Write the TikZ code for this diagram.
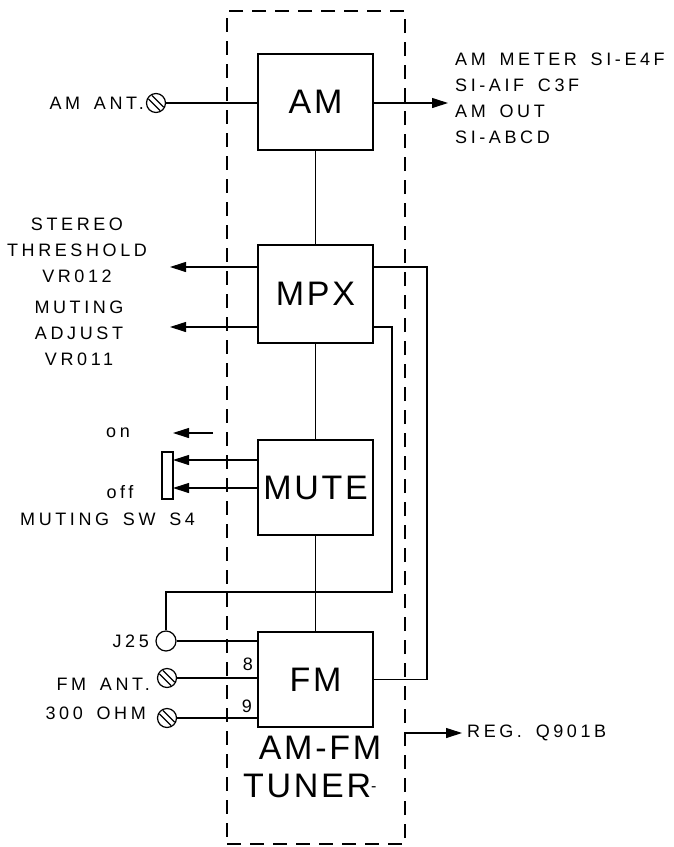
\documentclass[tikz,border=0pt]{standalone}
\usepackage{fontspec}
\setmainfont{Liberation Sans}
\newfontfamily\wirefont[LetterSpace=20,WordSpace=1.6]{Liberation Sans}
\newfontfamily\blockfont[LetterSpace=8]{Liberation Sans}
\usetikzlibrary{arrows.meta}

\begin{document}
\begin{tikzpicture}[x=1pt,y=-1pt,
  every node/.style={font=\wirefont\fontsize{18}{26}\selectfont,inner sep=0pt},
  blk/.style={draw,line width=1.4pt,minimum width=115pt,minimum height=96pt,
    font=\blockfont\fontsize{34}{40}\selectfont},
  wire/.style={line width=1.1pt},
  sig/.style={wire,-{Triangle[length=16pt,width=10pt]}},
  screw/.style={circle,draw,line width=1.2pt,minimum size=19pt,
    path picture={\draw[line width=1.1pt,shift={(path picture bounding box.center)}]
      (-4,-7.5) -- (7.5,4) (-7.5,-4) -- (4,7.5);}},
  jack/.style={circle,draw,line width=1.2pt,minimum size=20pt}
]
\useasboundingbox (0,0) rectangle (674,847);

% tuner frame
\node[draw,line width=1.1pt,dash pattern=on 14pt off 9pt,minimum width=178pt,
  minimum height=833pt] (tuner) at (316,427.5) {};

% blocks
\node[blk,minimum height=96pt] (am) at (315.5,102) {AM};
\node[blk,minimum height=98pt] (mpx) at (315.5,294) {MPX};
\node[blk,minimum height=95pt] (mute) at (315.5,487.5) {MUTE};
\node[blk,minimum height=95pt] (fm) at (315.5,679.5) {FM};
\draw[wire] (am) -- (mpx) (mpx) -- (mute) (mute) -- (fm);

% AM side
\node[screw] (amant) at (156,103) {};
\node[anchor=east] (amantlbl) at (144,103) {AM ANT.};
\draw[wire] (amant) -- (amant -| am.west);
\coordinate (amout) at (448,103);
\draw[sig] (am.east |- amout) -- (amout);
\node[anchor=west,align=left] (amtxt) at (455,98)
  {AM METER SI-E4F\\SI-AIF C3F\\AM OUT\\SI-ABCD};

% MPX outputs
\coordinate (vr12) at (170,267);
\coordinate (vr11) at (170,327);
\draw[sig] (vr12 -| mpx.west) -- (vr12);
\draw[sig] (vr11 -| mpx.west) -- (vr11);
\node[align=center] (sterlbl) at (77,250) {STEREO\\THRESHOLD\\VR012};
\node[align=center] (mutlbl) at (79,333) {MUTING\\ADJUST\\VR011};

% muting switch
\node[draw,line width=1.1pt,minimum width=11pt,minimum height=47pt] (sw) at (167.5,475.5) {};
\coordinate (swon) at (173,460);
\coordinate (swoff) at (173,488);
\draw[sig] (swon -| mute.west) -- (swon);
\draw[sig] (swoff -| mute.west) -- (swoff);
\coordinate (onfrom) at (213,433);
\coordinate (onto) at (173,433);
\draw[sig] (onfrom) -- (onto);
\node (onlbl) at (118,433) {on};
\node (offlbl) at (120,492) {off};
\node[anchor=west] (swlbl) at (20,519) {MUTING SW S4};

% FM inputs
\node[jack] (j25) at (166,641) {};
\node[screw] (fmant) at (167,678) {};
\node[screw] (ohm) at (167,718) {};
\node[anchor=east] (j25lbl) at (149,641) {J25};
\node[anchor=east] (fmlbl) at (150,684) {FM ANT.};
\node[anchor=east] (ohmlbl) at (146,713) {300 OHM};
\node (pin8) at (248,664) {8};
\node (pin9) at (247,706) {9};
\draw[wire] (j25) -- (j25 -| fm.west);
\draw[wire] (fmant) -- (fmant -| fm.west);
\draw[wire] (ohm) -- (ohm -| fm.west);

% loops on the right
\coordinate (bus1) at (427,267);
\coordinate (bus2) at (392,327);
\coordinate (bus3) at (166,592);
\draw[wire] (bus1 -| mpx.east) -- (bus1) |- (fm.east);
\draw[wire] (bus2 -| mpx.east) -- (bus2) |- (bus3) -- (j25.north);

% regulator
\coordinate (regtip) at (462,733);
\draw[sig] (regtip -| tuner.east) -- (regtip);
\node[anchor=west] (reglbl) at (467,733) {REG. Q901B};

\node[font=\blockfont\fontsize{34}{40}\selectfont] (tlbl1) at (320,748) {AM-FM};
\node[anchor=west,font=\blockfont\fontsize{34}{40}\selectfont] (tlbl2) at (243,786)
  {TUNER{\fontsize{16}{16}\selectfont\raisebox{6pt}{-}}};
\end{tikzpicture}
\end{document}
